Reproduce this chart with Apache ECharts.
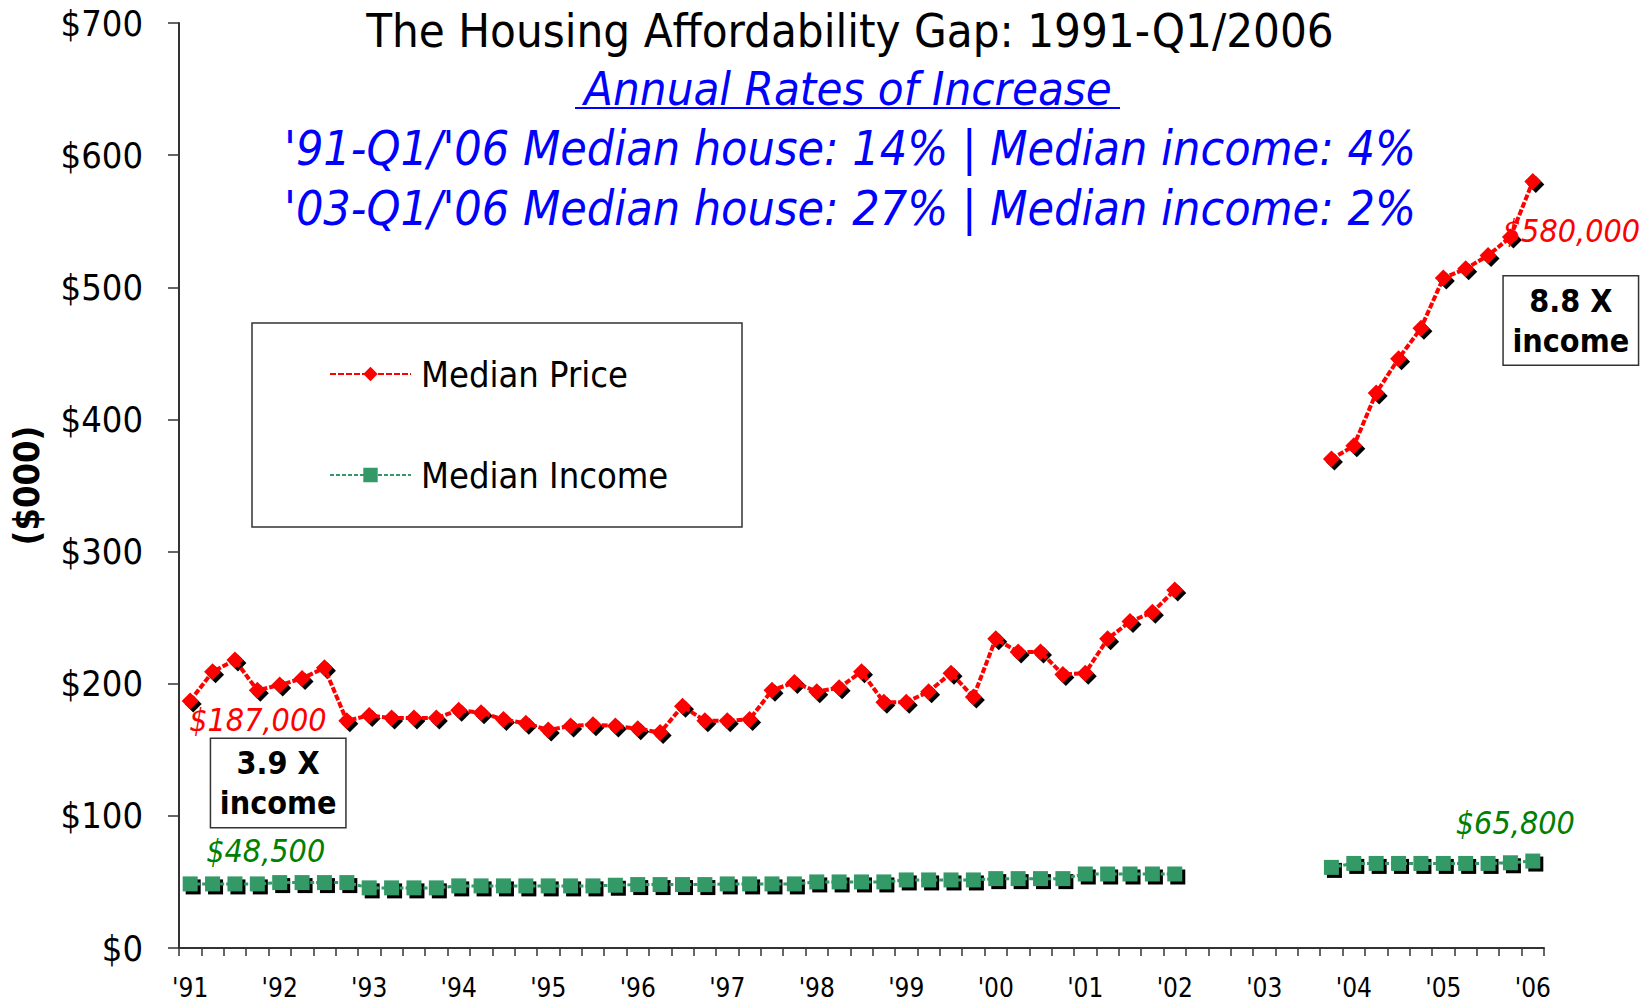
<!DOCTYPE html>
<html>
<head>
<meta charset="utf-8">
<script src="https://cdn.jsdelivr.net/npm/echarts@6/dist/echarts.min.js"></script>
<style>
html,body{margin:0;padding:0;background:#fff;}
#chart{width:1648px;height:1005px;}
</style>
</head>
<body>
<div id="chart"></div>
<script>
// ---------- data ----------
const yearLabels = ["'91","'92","'93","'94","'95","'96","'97","'98","'99","'00","'01","'02","'03","'04","'05","'06"];
const quarterNames = ["Q1","Q2","Q3","Q4"];
const yTickValues = [0,100,200,300,400,500,600,700];

// Median house price ($000), quarterly 1991 Q1 - 2006 Q1 (null = no data)
const medianPrice = [
  187, 209, 218, 195,   199, 204, 212, 172,
  176, 174, 174, 174,   180, 178, 173, 170,
  165, 168, 169, 168,   166, 163, 183, 172,
  172, 173, 195, 201,   194, 197, 209, 186,
  186, 194, 208, 190,   234, 224, 224, 207,
  208, 234, 247, 254,   271, null, null, null,
  null, null, null, 370, 380, 420, 446, 469,
  507, 514, 524, 538,   580
];
// Median household income ($000)
const medianIncome = [
  48.5, 48.5, 48.5, 48.5,  49.5, 49.5, 49.5, 49.5,
  45.5, 45.5, 45.5, 45.5,  47, 47, 47, 47,
  47, 47, 47, 47.5,        48, 48, 48, 48,
  48.5, 48.5, 48.5, 48.5,  50, 50, 50, 50,
  51.5, 51.5, 51.5, 51.5,  52.5, 52.5, 52.5, 52.5,
  56, 56, 56, 56,          56, null, null, null,
  null, null, null, 61,    64, 64, 64, 64,
  64, 64, 64, 64.5,        65.8
];

const titleText = 'The Housing Affordability Gap: 1991-Q1/2006';
const subTitleText = 'Annual Rates of Increase';
const rateLines = [
  "'91-Q1/'06 Median house: 14% | Median income: 4%",
  "'03-Q1/'06 Median house: 27% | Median income: 2%"
];

// ---------- build ----------
const quarters = [];
yearLabels.forEach((y, i) => {
  quarterNames.forEach((q, j) => {
    if (i === yearLabels.length - 1 && j > 0) return;
    quarters.push(y + ' ' + q);
  });
});

const FONT = "'DejaVu Sans Condensed', 'DejaVu Sans', sans-serif";
const firstIdx = 0, lastIdx = medianPrice.length - 1;
const money = v => '$' + Math.round(v * 1000).toLocaleString('en-US');
const ratio = i => (medianPrice[i] / medianIncome[i]).toFixed(1) + ' X\nincome';

function valueLabel(color, offset) {
  return {
    show: true, position: 'inside', align: 'left', verticalAlign: 'middle',
    offset: offset, formatter: p => money(p.value),
    color: color, fontStyle: 'italic', fontSize: 32, fontFamily: FONT
  };
}

const priceData = medianPrice.map((v, i) => {
  if (i === firstIdx) return { value: v, label: valueLabel('#FF0000', [-1, 19]) };
  if (i === lastIdx) return { value: v, label: valueLabel('#FF0000', [-30, 49]) };
  return v;
});
const incomeData = medianIncome.map((v, i) => {
  if (i === firstIdx) return { value: v, label: valueLabel('#008000', [16, -33]) };
  if (i === lastIdx) return { value: v, label: valueLabel('#008000', [-77, -38]) };
  return v;
});

const boxLabel = (i, offset) => ({
  coord: [quarters[i], medianPrice[i]],
  label: {
    show: true, position: 'inside', offset: offset,
    formatter: ratio(i),
    fontSize: 32, fontWeight: 'bold', fontFamily: FONT, lineHeight: 40,
    color: '#000', backgroundColor: '#fff',
    borderColor: '#333', borderWidth: 1.5,
    padding: [4, 9], width: 116, align: 'center', verticalAlign: 'middle'
  }
});

const chart = echarts.init(document.getElementById('chart'), null, { renderer: 'svg' });
chart.setOption({
  animation: false,
  backgroundColor: '#fff',
  grid: { left: 176, top: 23, width: 1368, height: 925, containLabel: false },
  legend: {
    data: ['Median Price', 'Median Income'],
    orient: 'vertical', left: 329, top: 356, padding: 0,
    itemWidth: 81, itemHeight: 18, itemGap: 65,
    textStyle: { fontSize: 36, color: '#000', fontFamily: FONT, lineHeight: 36, padding: [0, 0, 0, 5] }
  },
  xAxis: {
    type: 'category', data: quarters, boundaryGap: true,
    axisLine: { show: true, lineStyle: { color: '#333', width: 2 } },
    axisTick: { show: true, interval: 0, length: 8, lineStyle: { color: '#333', width: 1.5 } },
    axisLabel: {
      interval: 3, margin: 27, fontSize: 26, color: '#000', fontFamily: FONT,
      formatter: v => v.split(' ')[0]
    },
    splitLine: { show: false }
  },
  yAxis: {
    type: 'value', min: yTickValues[0], max: yTickValues[yTickValues.length - 1], interval: 100,
    axisLine: { show: true, lineStyle: { color: '#333', width: 2 } },
    axisTick: { show: true, length: 11, lineStyle: { color: '#333', width: 1.5 } },
    axisLabel: { margin: 36, fontSize: 36, color: '#000', fontFamily: FONT, formatter: v => '$' + v },
    splitLine: { show: false },
    name: '($000)', nameLocation: 'middle', nameGap: 135, nameRotate: 90,
    nameTextStyle: { fontSize: 36, fontWeight: 'bold', color: '#000', fontFamily: FONT }
  },
  series: [
    {
      name: 'Price shadow', type: 'line', data: medianPrice, z: 1, silent: true,
      symbol: 'diamond', symbolSize: 17, symbolOffset: [3, 3], showSymbol: true, showAllSymbol: true,
      itemStyle: { color: '#000' }, lineStyle: { width: 0, opacity: 0 }, connectNulls: false
    },
    {
      name: 'Income shadow', type: 'line', data: medianIncome, z: 1, silent: true,
      symbol: 'rect', symbolSize: 15, symbolOffset: [3, 3], showSymbol: true, showAllSymbol: true,
      itemStyle: { color: '#000' }, lineStyle: { width: 0, opacity: 0 }, connectNulls: false
    },
    {
      name: 'Median Price', type: 'line', data: priceData, z: 3,
      symbol: 'diamond', symbolSize: 17, showSymbol: true, showAllSymbol: true, connectNulls: false,
      itemStyle: { color: '#FF0000' },
      lineStyle: { color: '#FF0000', width: 4, type: [6, 2] },
      markPoint: {
        symbol: 'rect', symbolSize: 0, silent: true,
        data: [ boxLabel(firstIdx, [88, 82]), boxLabel(lastIdx, [38, 139]) ]
      }
    },
    {
      name: 'Median Income', type: 'line', data: incomeData, z: 3,
      symbol: 'rect', symbolSize: 15, showSymbol: true, showAllSymbol: true, connectNulls: false,
      itemStyle: { color: '#339966' },
      lineStyle: { color: '#339966', width: 3, type: [4, 2] }
    }
  ],
  graphic: [
    { type: 'text', x: 850, y: 30, silent: true,
      style: { text: titleText, fontSize: 47, fontFamily: FONT, fill: '#000', align: 'center', verticalAlign: 'middle' } },
    { type: 'text', x: 848, y: 88, silent: true,
      style: { text: subTitleText, fontSize: 47, fontStyle: 'italic', fontFamily: FONT, fill: '#0000FF', align: 'center', verticalAlign: 'middle' } },
    { type: 'line', silent: true, shape: { x1: 575, y1: 108, x2: 1120, y2: 108 }, style: { stroke: '#0000FF', lineWidth: 2 } },
    { type: 'text', x: 850, y: 148, silent: true,
      style: { text: rateLines[0], fontSize: 48, fontStyle: 'italic', fontFamily: FONT, fill: '#0000FF', align: 'center', verticalAlign: 'middle' } },
    { type: 'text', x: 850, y: 208, silent: true,
      style: { text: rateLines[1], fontSize: 48, fontStyle: 'italic', fontFamily: FONT, fill: '#0000FF', align: 'center', verticalAlign: 'middle' } },
    { type: 'rect', silent: true, shape: { x: 252, y: 323, width: 490, height: 204 },
      style: { fill: 'none', stroke: '#333', lineWidth: 1.5 } }
  ]
});
</script>
</body>
</html>
